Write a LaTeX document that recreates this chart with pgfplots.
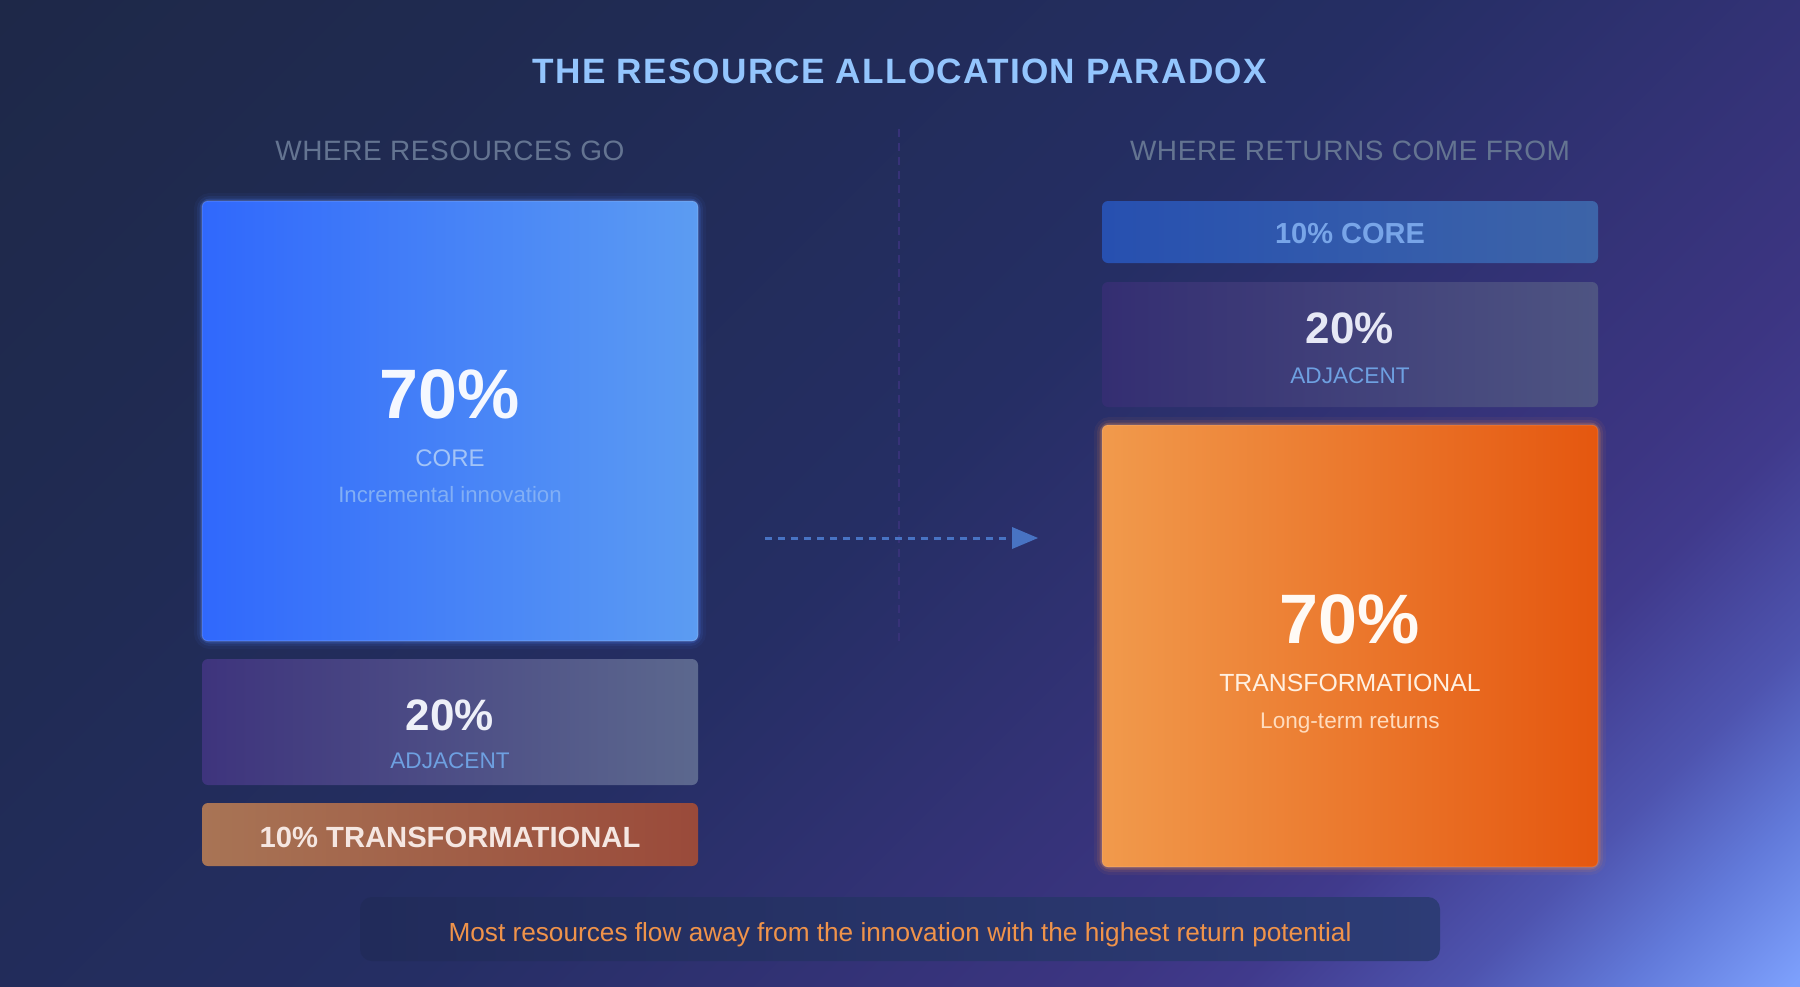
\documentclass[border=0pt]{standalone}
\usepackage{fontspec}
\setmainfont{Liberation Sans}
\newfontfamily\titlefont[LetterSpace=3.5]{Liberation Sans}
\newfontfamily\subfont[LetterSpace=2]{Liberation Sans}
\usepackage{pgfplots}
\pgfplotsset{compat=1.18}

% background stops
\definecolor{bgA}{RGB}{30,40,72}
\definecolor{bgB}{RGB}{32,43,84}
\definecolor{bgC}{RGB}{37,46,100}
\definecolor{bgD}{RGB}{60,53,130}
\definecolor{bgE}{RGB}{64,58,140}
\definecolor{bgF}{RGB}{78,84,175}
\definecolor{bgG}{RGB}{98,122,218}
\definecolor{bgH}{RGB}{125,160,252}
\pgfdeclarehorizontalshading{bgshade}{100bp}{color(0bp)=(bgA); color(14.64bp)=(bgA); color(32.32bp)=(bgB); color(50bp)=(bgC); color(67.67bp)=(bgD); color(71.21bp)=(bgE); color(76.86bp)=(bgF); color(81.11bp)=(bgG); color(85.36bp)=(bgH); color(100bp)=(bgH)}

% block colours
\definecolor{coreL}{RGB}{48,104,252}
\definecolor{coreR}{RGB}{92,156,242}
\definecolor{adjLL}{RGB}{62,52,125}
\definecolor{adjLR}{RGB}{92,104,142}
\definecolor{trLL}{RGB}{168,116,85}
\definecolor{trLR}{RGB}{154,74,58}
\definecolor{coreRL}{RGB}{39,80,176}
\definecolor{coreRR}{RGB}{61,100,168}
\definecolor{adjRL}{RGB}{52,46,114}
\definecolor{adjRR}{RGB}{78,84,130}
\definecolor{orL}{RGB}{241,154,76}
\definecolor{orR}{RGB}{229,87,15}
\definecolor{footL}{RGB}{33,43,90}
\definecolor{footR}{RGB}{45,60,118}
\definecolor{glowB}{RGB}{70,120,240}
\definecolor{glowO}{RGB}{245,140,70}
% text colours
\definecolor{titleC}{RGB}{147,197,253}
\definecolor{subC}{RGB}{100,116,145}
\definecolor{coreLab}{RGB}{163,196,247}
\definecolor{coreSub}{RGB}{130,175,245}
\definecolor{adjLab}{RGB}{110,160,225}
\definecolor{trText}{RGB}{245,230,225}
\definecolor{coreSmall}{RGB}{120,165,232}
\definecolor{orLab}{RGB}{255,240,225}
\definecolor{orSub}{RGB}{255,220,190}
\definecolor{footC}{RGB}{240,147,74}
\definecolor{arrowC}{RGB}{72,115,195}
\definecolor{divC}{RGB}{55,50,120}

\begin{document}
\begin{tikzpicture}
\begin{axis}[
  width=900pt, height=493pt, scale only axis,
  xmin=0, xmax=1800, ymin=0, ymax=986, y dir=reverse,
  hide axis, clip=false,
]
% background
\shade[shading=bgshade, shading angle=-45] (axis cs:0,0) rectangle (axis cs:1800,986);

% divider
\draw[divC, line width=1pt, dash pattern=on 4pt off 3pt] (axis cs:899,129) -- (axis cs:899,643);

% ---- left column: where resources go (70 / 20 / 10) ----
% glow of core block
\addplot[draw=glowB, line width=8pt, opacity=0.06, rounded corners=4pt] coordinates {(450,201) (698,201) (698,641) (202,641) (202,201)} -- cycle;
\addplot[draw=glowB, line width=5pt, opacity=0.10, rounded corners=4pt] coordinates {(450,201) (698,201) (698,641) (202,641) (202,201)} -- cycle;
\addplot[draw=glowB, line width=2.5pt, opacity=0.22, rounded corners=4pt] coordinates {(450,201) (698,201) (698,641) (202,641) (202,201)} -- cycle;
% core 70
\addplot[draw=white, draw opacity=0.15, line width=0.6pt, left color=coreL, right color=coreR, rounded corners=3pt] coordinates {(450,201) (698,201) (698,641) (202,641) (202,201)} -- cycle;
% adjacent 20
\addplot[draw=none, left color=adjLL, right color=adjLR, rounded corners=3pt] coordinates {(450,659) (698,659) (698,785) (202,785) (202,659)} -- cycle;
% transformational 10
\addplot[draw=none, left color=trLL, right color=trLR, rounded corners=3pt] coordinates {(450,803) (698,803) (698,866) (202,866) (202,803)} -- cycle;

% ---- right column: where returns come from (10 / 20 / 70) ----
\addplot[draw=none, left color=coreRL, right color=coreRR, rounded corners=3pt] coordinates {(1350,201) (1598,201) (1598,263) (1102,263) (1102,201)} -- cycle;
\addplot[draw=none, left color=adjRL, right color=adjRR, rounded corners=3pt] coordinates {(1350,282) (1598,282) (1598,407) (1102,407) (1102,282)} -- cycle;
% glow of orange block
\addplot[draw=glowO, line width=8pt, opacity=0.06, rounded corners=4pt] coordinates {(1350,425) (1598,425) (1598,867) (1102,867) (1102,425)} -- cycle;
\addplot[draw=glowO, line width=5pt, opacity=0.10, rounded corners=4pt] coordinates {(1350,425) (1598,425) (1598,867) (1102,867) (1102,425)} -- cycle;
\addplot[draw=glowO, line width=2.5pt, opacity=0.22, rounded corners=4pt] coordinates {(1350,425) (1598,425) (1598,867) (1102,867) (1102,425)} -- cycle;
\addplot[draw=white, draw opacity=0.12, line width=0.6pt, left color=orL, right color=orR, rounded corners=3pt] coordinates {(1350,425) (1598,425) (1598,867) (1102,867) (1102,425)} -- cycle;

% footer box
\addplot[draw=none, left color=footL, right color=footR, rounded corners=6pt] coordinates {(900,897) (1440,897) (1440,961) (360,961) (360,897)} -- cycle;

% arrow
\draw[arrowC, line width=1.5pt, dash pattern=on 3.5pt off 3pt] (axis cs:765,538) -- (axis cs:1012,538);
\fill[arrowC] (axis cs:1012,527) -- (axis cs:1038,538) -- (axis cs:1012,549) -- cycle;

% titles
\node[anchor=base, text=titleC, font=\titlefont\fontsize{17.6}{20}\selectfont\bfseries] at (axis cs:900,83) {THE RESOURCE ALLOCATION PARADOX};
\node[anchor=base, text=subC, font=\subfont\fontsize{14}{16}\selectfont] at (axis cs:450,160) {WHERE RESOURCES GO};
\node[anchor=base, text=subC, font=\subfont\fontsize{14}{16}\selectfont] at (axis cs:1350,160) {WHERE RETURNS COME FROM};

% left texts
\node[anchor=base, text={rgb,255:red,245;green,248;blue,255}, font=\fontsize{35}{40}\selectfont\bfseries] at (axis cs:450,418) {70\%};
\node[anchor=base, text=coreLab, font=\fontsize{12}{14}\selectfont] at (axis cs:450,466) {CORE};
\node[anchor=base, text=coreSub, font=\fontsize{11.1}{13}\selectfont] at (axis cs:450,502) {Incremental innovation};
\node[anchor=base, text={rgb,255:red,238;green,240;blue,248}, font=\fontsize{22}{26}\selectfont\bfseries] at (axis cs:450,730) {20\%};
\node[anchor=base, text=adjLab, font=\fontsize{11.3}{13}\selectfont] at (axis cs:450,768) {ADJACENT};
\node[anchor=base, text=trText, font=\fontsize{14.6}{16}\selectfont\bfseries] at (axis cs:450,847) {10\% TRANSFORMATIONAL};

% right texts
\node[anchor=base, text=coreSmall, font=\fontsize{14.5}{16}\selectfont\bfseries] at (axis cs:1350,243) {10\% CORE};
\node[anchor=base, text={rgb,255:red,230;green,232;blue,245}, font=\fontsize{22}{26}\selectfont\bfseries] at (axis cs:1350,343) {20\%};
\node[anchor=base, text=adjLab, font=\fontsize{11.3}{13}\selectfont] at (axis cs:1350,383) {ADJACENT};
\node[anchor=base, text={rgb,255:red,255;green,250;blue,245}, font=\fontsize{35}{40}\selectfont\bfseries] at (axis cs:1350,643) {70\%};
\node[anchor=base, text=orLab, font=\fontsize{12.4}{14}\selectfont] at (axis cs:1350,691) {TRANSFORMATIONAL};
\node[anchor=base, text=orSub, font=\fontsize{11.3}{13}\selectfont] at (axis cs:1350,728) {Long-term returns};

% footer text
\node[anchor=base, text=footC, font=\fontsize{13.1}{15}\selectfont] at (axis cs:900,941) {Most resources flow away from the innovation with the highest return potential};
\end{axis}
\end{tikzpicture}
\end{document}
